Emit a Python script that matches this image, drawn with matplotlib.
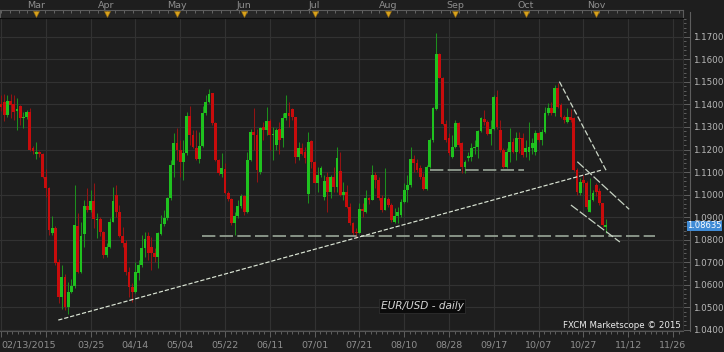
import numpy as np
import matplotlib
matplotlib.use("Agg")
import matplotlib.pyplot as plt
from matplotlib.lines import Line2D
from matplotlib.ticker import MultipleLocator, FormatStrFormatter
from matplotlib.transforms import blended_transform_factory

# ==============================
# DATA  (EUR/USD daily, one bar per weekday from 02/13/2015)
# ==============================
opens = [
    1.1400, 1.1410, 1.1355, 1.1415, 1.1400, 1.1372, 1.1395, 1.1338, 1.1342, 1.1368,
    1.1205, 1.1180, 1.1190, 1.1182, 1.1080, 1.1030, 1.0830, 1.0853, 1.0700, 1.0548,
    1.0636, 1.0503, 1.0570, 1.0596, 1.0862, 1.0658, 1.0825, 1.0950, 1.0932, 1.0972,
    1.0888, 1.0893, 1.0836, 1.0732, 1.0769, 1.0880, 1.1000, 1.0925, 1.0817, 1.0784,
    1.0659, 1.0592, 1.0570, 1.0651, 1.0688, 1.0765, 1.0817, 1.0770, 1.0740, 1.0725,
    1.0826, 1.0868, 1.0895, 1.0984, 1.1131, 1.1230, 1.1198, 1.1146, 1.1186, 1.1350,
    1.1265, 1.1205, 1.1158, 1.1216, 1.1360, 1.1412, 1.1449, 1.1316, 1.1154, 1.1091,
    1.1112, 1.1009, 1.0979, 1.0873, 1.0905, 1.0950, 1.0994, 1.0925, 1.1154, 1.1279,
    1.1265, 1.1102, 1.1301, 1.1287, 1.1328, 1.1265, 1.1220, 1.1290, 1.1250, 1.1338,
    1.1360, 1.1378, 1.1342, 1.1168, 1.1205, 1.1190, 1.1005, 1.1238, 1.1146, 1.1052,
    1.1087, 1.0991, 1.1080, 1.1013, 1.1080, 1.1035, 1.1105, 1.0998, 1.1013, 1.0944,
    1.0873, 1.0835, 1.0828, 1.0935, 1.0925, 1.0984, 1.0976, 1.1087, 1.1065, 1.0984,
    1.0930, 1.0980, 1.0955, 1.0880, 1.0906, 1.0910, 1.0969, 1.1021, 1.1043, 1.1157,
    1.1140, 1.1116, 1.1080, 1.1025, 1.1124, 1.1242, 1.1380, 1.1623, 1.1519, 1.1313,
    1.1250, 1.1168, 1.1213, 1.1316, 1.1227, 1.1124, 1.1163, 1.1168, 1.1205, 1.1210,
    1.1283, 1.1335, 1.1320, 1.1269, 1.1291, 1.1434, 1.1287, 1.1198, 1.1124, 1.1190,
    1.1235, 1.1190, 1.1250, 1.1250, 1.1190, 1.1190, 1.1205, 1.1190, 1.1272, 1.1242,
    1.1279, 1.1360, 1.1383, 1.1360, 1.1471, 1.1397, 1.1346, 1.1323, 1.1346, 1.1338,
    1.1109, 1.1006, 1.1065, 1.1050, 1.0925, 1.0976, 1.1043, 1.1017, 1.0961, 1.0858,
]
highs = [
    1.1440, 1.1445, 1.1440, 1.1445, 1.1440, 1.1430, 1.1398, 1.1368, 1.1375, 1.1382,
    1.1215, 1.1235, 1.1195, 1.1185, 1.1115, 1.1032, 1.0905, 1.0860, 1.0715, 1.0688,
    1.0650, 1.0614, 1.0625, 1.1043, 1.0917, 1.0880, 1.0978, 1.1028, 1.1020, 1.1050,
    1.0917, 1.0900, 1.0840, 1.0784, 1.0895, 1.1032, 1.1043, 1.0954, 1.0858, 1.0799,
    1.0681, 1.0607, 1.0703, 1.0710, 1.0821, 1.0836, 1.0836, 1.0814, 1.0762, 1.0836,
    1.0910, 1.0932, 1.0991, 1.1154, 1.1272, 1.1294, 1.1242, 1.1242, 1.1368, 1.1393,
    1.1287, 1.1287, 1.1279, 1.1393, 1.1442, 1.1467, 1.1450, 1.1320, 1.1160, 1.1183,
    1.1140, 1.1015, 1.0985, 1.0925, 1.0976, 1.1005, 1.1000, 1.1191, 1.1290, 1.1382,
    1.1290, 1.1300, 1.1320, 1.1390, 1.1335, 1.1301, 1.1294, 1.1320, 1.1360, 1.1442,
    1.1412, 1.1385, 1.1345, 1.1235, 1.1230, 1.1210, 1.1279, 1.1240, 1.1150, 1.1124,
    1.1125, 1.1087, 1.1102, 1.1087, 1.1124, 1.1212, 1.1190, 1.1058, 1.1043, 1.0961,
    1.0880, 1.0850, 1.0961, 1.0965, 1.1020, 1.0990, 1.1131, 1.1102, 1.1080, 1.0998,
    1.1117, 1.0990, 1.0961, 1.0939, 1.0947, 1.0980, 1.1050, 1.1087, 1.1213, 1.1176,
    1.1160, 1.1131, 1.1094, 1.1131, 1.1250, 1.1390, 1.1715, 1.1626, 1.1523, 1.1331,
    1.1272, 1.1264, 1.1331, 1.1320, 1.1235, 1.1154, 1.1190, 1.1227, 1.1242, 1.1287,
    1.1346, 1.1375, 1.1331, 1.1331, 1.1442, 1.1464, 1.1331, 1.1205, 1.1205, 1.1294,
    1.1250, 1.1279, 1.1279, 1.1272, 1.1242, 1.1323, 1.1250, 1.1287, 1.1279, 1.1290,
    1.1390, 1.1405, 1.1412, 1.1486, 1.1495, 1.1405, 1.1353, 1.1383, 1.1380, 1.1345,
    1.1120, 1.1072, 1.1085, 1.1060, 1.1072, 1.1020, 1.1050, 1.1030, 1.0965, 1.0893,
]
lows = [
    1.1370, 1.1325, 1.1345, 1.1340, 1.1330, 1.1287, 1.1310, 1.1295, 1.1335, 1.1192,
    1.1180, 1.1160, 1.1165, 1.1072, 1.0990, 1.0821, 1.0821, 1.0690, 1.0518, 1.0495,
    1.0490, 1.0470, 1.0565, 1.0585, 1.0652, 1.0652, 1.0770, 1.0925, 1.0925, 1.0853,
    1.0810, 1.0815, 1.0718, 1.0725, 1.0765, 1.0878, 1.0900, 1.0814, 1.0769, 1.0644,
    1.0548, 1.0522, 1.0563, 1.0622, 1.0681, 1.0725, 1.0710, 1.0666, 1.0703, 1.0673,
    1.0821, 1.0860, 1.0888, 1.0976, 1.1080, 1.1154, 1.1080, 1.1065, 1.1176, 1.1220,
    1.1205, 1.1154, 1.1142, 1.1213, 1.1353, 1.1405, 1.1310, 1.1150, 1.1087, 1.1080,
    1.1005, 1.0970, 1.0865, 1.0821, 1.0895, 1.0940, 1.0910, 1.0920, 1.1150, 1.1200,
    1.1057, 1.1090, 1.1240, 1.1265, 1.1198, 1.1154, 1.1198, 1.1180, 1.1213, 1.1330,
    1.1301, 1.1330, 1.1139, 1.1154, 1.1175, 1.1140, 1.0961, 1.1117, 1.1050, 1.1013,
    1.1080, 1.0976, 1.0925, 1.0984, 1.1013, 1.1013, 1.0995, 1.0976, 1.0939, 1.0865,
    1.0821, 1.0810, 1.0828, 1.0900, 1.0920, 1.0960, 1.0976, 1.1028, 1.0976, 1.0925,
    1.0930, 1.0945, 1.0880, 1.0873, 1.0873, 1.0900, 1.0961, 1.0969, 1.1035, 1.1102,
    1.1100, 1.1070, 1.1021, 1.1021, 1.1116, 1.1235, 1.1375, 1.1516, 1.1309, 1.1235,
    1.1176, 1.1161, 1.1205, 1.1213, 1.1094, 1.1094, 1.1150, 1.1150, 1.1180, 1.1161,
    1.1279, 1.1309, 1.1264, 1.1220, 1.1287, 1.1290, 1.1190, 1.1116, 1.1116, 1.1146,
    1.1183, 1.1154, 1.1183, 1.1168, 1.1168, 1.1154, 1.1180, 1.1176, 1.1235, 1.1220,
    1.1272, 1.1353, 1.1353, 1.1350, 1.1383, 1.1338, 1.1316, 1.1316, 1.1320, 1.1105,
    1.1000, 1.1000, 1.1035, 1.0935, 1.0925, 1.0970, 1.0995, 1.0955, 1.0858, 1.0832,
]
closes = [
    1.1387, 1.1355, 1.1415, 1.1398, 1.1368, 1.1380, 1.1338, 1.1345, 1.1368, 1.1198,
    1.1195, 1.1190, 1.1178, 1.1080, 1.1028, 1.0843, 1.0853, 1.0698, 1.0548, 1.0636,
    1.0503, 1.0570, 1.0596, 1.0865, 1.0658, 1.0818, 1.0950, 1.0932, 1.0972, 1.0891,
    1.0893, 1.0836, 1.0732, 1.0769, 1.0880, 1.0972, 1.0925, 1.0817, 1.0784, 1.0659,
    1.0592, 1.0570, 1.0659, 1.0688, 1.0765, 1.0802, 1.0740, 1.0740, 1.0725, 1.0828,
    1.0868, 1.0895, 1.0984, 1.1131, 1.1230, 1.1198, 1.1146, 1.1186, 1.1350, 1.1265,
    1.1213, 1.1158, 1.1216, 1.1360, 1.1412, 1.1446, 1.1316, 1.1154, 1.1097, 1.1116,
    1.1009, 1.0979, 1.0873, 1.0905, 1.0950, 1.0994, 1.0925, 1.1154, 1.1279, 1.1265,
    1.1110, 1.1294, 1.1287, 1.1328, 1.1265, 1.1270, 1.1287, 1.1240, 1.1338, 1.1360,
    1.1350, 1.1342, 1.1168, 1.1205, 1.1180, 1.1161, 1.1235, 1.1143, 1.1052, 1.1087,
    1.1117, 1.1061, 1.1013, 1.1080, 1.1035, 1.1161, 1.0998, 1.1013, 1.0944, 1.0873,
    1.0828, 1.0828, 1.0935, 1.0928, 1.0984, 1.0976, 1.1087, 1.1065, 1.0984, 1.0932,
    1.0984, 1.0955, 1.0888, 1.0906, 1.0925, 1.0969, 1.1021, 1.1043, 1.1157, 1.1140,
    1.1109, 1.1080, 1.1025, 1.1124, 1.1242, 1.1386, 1.1623, 1.1519, 1.1313, 1.1242,
    1.1183, 1.1213, 1.1316, 1.1220, 1.1124, 1.1146, 1.1172, 1.1205, 1.1213, 1.1283,
    1.1338, 1.1320, 1.1269, 1.1291, 1.1434, 1.1300, 1.1198, 1.1124, 1.1190, 1.1235,
    1.1190, 1.1250, 1.1247, 1.1176, 1.1205, 1.1213, 1.1227, 1.1272, 1.1242, 1.1279,
    1.1360, 1.1383, 1.1360, 1.1471, 1.1390, 1.1346, 1.1331, 1.1346, 1.1331, 1.1109,
    1.1013, 1.1058, 1.1050, 1.0946, 1.0976, 1.1006, 1.1013, 1.0961, 1.0865, 1.08635,
]

date_ticks = [0, 14, 28, 42, 56, 70, 84, 98, 112, 126, 140, 154, 168, 182, 196, 210]
date_labels = ["02/13/2015", "", "03/25", "04/14", "05/04", "05/22", "06/11", "07/01",
               "07/21", "08/10", "08/28", "09/17", "10/07", "10/27", "11/12", "11/26"]

month_idx = [11, 33, 55, 76, 98, 121, 142, 164, 186]
month_names = ["Mar", "Apr", "May", "Jun", "Jul", "Aug", "Sep", "Oct", "Nov"]

price_ticks = [1.04, 1.05, 1.06, 1.07, 1.08, 1.09, 1.10, 1.11, 1.12, 1.13, 1.14,
               1.15, 1.16, 1.17]

# drawn studies: (bar index, price) end points
support_upper = ([134.1, 163.4], [1.1109, 1.1109])
support_lower = ([62.8, 204.4], [1.0817, 1.0817])
trend_up = ([17.9, 187.7], [1.0444, 1.1109])
line_a = ([174.5, 189.3], [1.1501, 1.1102])
line_b = ([180.1, 196.3], [1.1146, 1.0935])
line_c = ([178.1, 193.4], [1.0954, 1.0790])

last_price = 1.08635

# ==============================
# FIGURE LAYOUT (pixel based)
# ==============================
W, H = 724, 352
BG = "#1e1e1e"
GRID = "#323232"
GREEN, GREEN_W = "#1fc21f", "#1d8f1d"
RED, RED_W = "#c80c0c", "#931414"

fig = plt.figure(figsize=(W / 100, H / 100), dpi=100, facecolor=BG)

plot_l, plot_r, plot_t, plot_b = 0, 683, 18, 330.5
ax = fig.add_axes([plot_l / W, 1 - plot_b / H, (plot_r - plot_l) / W, (plot_b - plot_t) / H])
ax.set_facecolor(BG)

n = len(closes)
idx = np.arange(n)
o = np.array(opens)
c = np.array(closes)
up = c >= o

# ==============================
# CANDLES
# ==============================
ax.vlines(idx[up], np.array(lows)[up], np.array(highs)[up], color=GREEN_W, lw=0.75, zorder=3)
ax.vlines(idx[~up], np.array(lows)[~up], np.array(highs)[~up], color=RED_W, lw=0.75, zorder=3)

body_lo = np.minimum(o, c)
body_h = np.maximum(np.abs(c - o), 0.00025)
ax.bar(idx[up], body_h[up], bottom=body_lo[up], width=0.84, color=GREEN, lw=0, zorder=4)
ax.bar(idx[~up], body_h[~up], bottom=body_lo[~up], width=0.84, color=RED, lw=0, zorder=4)

# ==============================
# STUDY LINES
# ==============================
for xs, ys in (support_upper, support_lower):
    ax.plot(xs, ys, color="#9aa899", lw=1.2, dashes=(8, 2.6), zorder=5)
ax.plot(*trend_up, color="#dce6d6", lw=0.85, dashes=(3.6, 1.6), zorder=5)
ax.plot(*line_a, color="#cdd8c8", lw=0.9, dashes=(4.5, 1.8), zorder=5)
ax.plot(*line_b, color="#c6d2c2", lw=0.9, dashes=(7, 1.8), zorder=5)
ax.plot(*line_c, color="#c6d2c2", lw=0.9, dashes=(7, 1.8), zorder=5)

# ==============================
# AXES STYLE
# ==============================
ax.set_xlim(-0.3125, 213.125)
ax.set_ylim(1.04 - 0.5 / 2256, 1.04 + 312 / 2256)

ax.set_yticks(price_ticks)
ax.yaxis.set_major_formatter(FormatStrFormatter("%.4f"))
ax.yaxis.set_minor_locator(MultipleLocator(0.002))
ax.yaxis.tick_right()
ax.tick_params(axis="y", which="major", length=4.7, width=0.6, color="#6a6a6a",
               labelcolor="#b8b8b8", labelsize=6.3, pad=2.4)
ax.tick_params(axis="y", which="minor", length=2.4, width=0.6, color="#6a6a6a")

ax.set_xticks(date_ticks, labels=date_labels)
ax.xaxis.set_minor_locator(MultipleLocator(1.75))
ax.tick_params(axis="x", which="major", length=4.5, width=0.6, color="#6a6a6a",
               labelcolor="#8e8e8e", labelsize=6.8, pad=2.5)
ax.tick_params(axis="x", which="minor", length=2.5, width=0.6, color="#6a6a6a")
ax.get_xticklabels()[0].set_horizontalalignment("left")

ax.grid(True, which="major", color=GRID, lw=0.8)
ax.set_axisbelow(True)
ax.spines["left"].set_visible(False)
ax.spines["top"].set_color("#0c0c0c")
ax.spines["bottom"].set_color("#555555")
ax.spines["right"].set_color("#2e2e2e")
for s in ax.spines.values():
    s.set_linewidth(0.8)

# right price scale border (drawn beneath the axes content)
fig.add_artist(Line2D([689.5 / W] * 2, [1 - plot_b / H, 1 - 12 / H],
                      color="#5e5e5e", lw=0.8, zorder=-1))

# current price tag
tr = blended_transform_factory(fig.transFigure, ax.transData)
ax.text(704.5 / W, last_price - 0.0002, f"{last_price:.5f}", transform=tr, ha="center",
        va="center", color="white", fontsize=6.0, clip_on=False, zorder=10,
        bbox=dict(facecolor="#3f8bd6", edgecolor="none", pad=0.5))

# ==============================
# MONTH STRIP (top)
# ==============================
ax_top = fig.add_axes([plot_l / W, 1 - 18 / H, (plot_r - plot_l) / W, 8 / H])
ax_top.set_facecolor("#262626")
ax_top.set_xlim(ax.get_xlim())
ax_top.set_ylim(0, 1)
ax_top.set_yticks([])
ax_top.xaxis.tick_top()
ax_top.xaxis.set_major_locator(MultipleLocator(2.75))
ax_top.tick_params(axis="x", direction="in", length=2, width=0.6, color="#6e6e6e",
                   labeltop=False, labelbottom=False)
for side, col in (("top", "#5c5c5c"), ("bottom", "#0c0c0c"), ("left", "#5c5c5c"),
                  ("right", "#5c5c5c")):
    ax_top.spines[side].set_color(col)
    ax_top.spines[side].set_linewidth(0.8)
ax_top.plot(month_idx, [0.45] * len(month_idx), "v", ms=4.8, color="#d9a21c",
            mec="#9a7010", mew=0.4)
for mi, name in zip(month_idx, month_names):
    ax_top.text(mi, 1.62, name, ha="center", va="center", color="#8e8e8e",
                fontsize=6.8, clip_on=False)

# ==============================
# TEXT LABELS
# ==============================
fig.text(422 / W, 1 - 306 / H, "EUR/USD - daily", ha="center", va="center",
         style="italic", color="#d6d6d6", fontsize=7.6,
         bbox=dict(facecolor="#0b0b0b", edgecolor="#333333", lw=0.5, pad=1.4))
fig.text(681 / W, 1 - 326 / H, "FXCM Marketscope \u00a9 2015", ha="right", va="center",
         color="#ececec", fontsize=6.2)

fig.savefig("out.png", dpi=100, facecolor=BG)
